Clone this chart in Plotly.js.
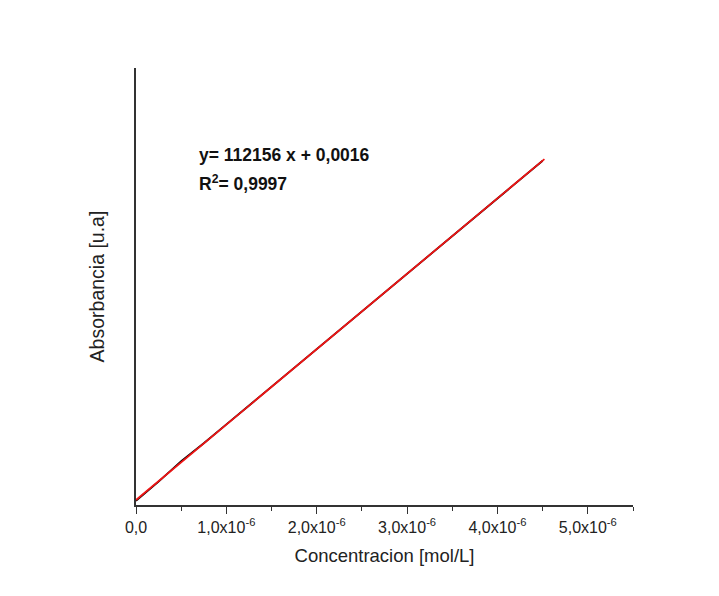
<!DOCTYPE html>
<html>
<head>
<meta charset="utf-8">
<script src="https://cdn.plot.ly/plotly-3.0.1.min.js"></script>
<style>html,body{margin:0;padding:0;background:#fff;}#chart{width:719px;height:596px;}</style>
</head>
<body>
<div id="chart"></div>
<script>
// measured data (black)
const concX = [0, 2.5e-7, 5e-7, 7.5e-7, 1e-6, 2e-6, 3e-6, 4e-6, 4.5e-6];
const absY  = [0.0004, 0.0290, 0.0595, 0.0860, 0.1140, 0.2260, 0.3380, 0.4500, 0.5060];
// linear fit (red), endpoints
const fitX = [0, 4.52e-6];
const fitY = [0.0016, 0.5085];
// x ticks
const tickVals = [0, 1e-6, 2e-6, 3e-6, 4e-6, 5e-6];
const tickText = ["0,0", "1,0x10<sup>-6</sup>", "2,0x10<sup>-6</sup>", "3,0x10<sup>-6</sup>", "4,0x10<sup>-6</sup>", "5,0x10<sup>-6</sup>"];
const fitLine1 = "<b>y= 112156 x + 0,0016</b>";
const fitLine2 = "<b>R<sup>2</sup>= 0,9997</b>";

const traces = [
  {x: concX, y: absY, mode: 'lines', line: {color: '#000000', width: 1.8}, hoverinfo: 'skip'},
  {x: fitX, y: fitY, mode: 'lines', line: {color: '#ee1414', width: 1.8}, hoverinfo: 'skip'}
];

const annFont = {size: 17.5, color: '#111', family: 'Liberation Sans, Arial, sans-serif'};

const layout = {
  width: 719, height: 596,
  margin: {l: 136, r: 86, t: 68, b: 91},
  paper_bgcolor: '#ffffff', plot_bgcolor: '#ffffff',
  showlegend: false,
  font: {family: 'Liberation Sans, Arial, sans-serif', color: '#222'},
  xaxis: {
    range: [0, 5.5e-6], showgrid: false, zeroline: false,
    showline: true, linecolor: '#333', linewidth: 2,
    tickmode: 'array', tickvals: tickVals, ticktext: tickText,
    ticks: 'outside', ticklen: 7, tickwidth: 1, tickcolor: '#333',
    minor: {tickvals: [5e-7, 1.5e-6, 2.5e-6, 3.5e-6, 4.5e-6, 5.5e-6], ticks: 'outside', ticklen: 4, tickwidth: 1, tickcolor: '#333'},
    tickfont: {size: 16, color: '#222'},
    title: {text: 'Concentracion [mol/L]', font: {size: 18.5, color: '#222'}, standoff: 14}
  },
  yaxis: {
    range: [-0.0058, 0.644], showgrid: false, zeroline: false,
    showline: true, linecolor: '#333', linewidth: 2,
    showticklabels: false, ticks: '',
    title: {text: 'Absorbancia [u.a]', font: {size: 19.5, color: '#222'}, standoff: 24}
  },
  annotations: [
    {xref: 'paper', yref: 'paper', x: 0.122, y: 0.801, xanchor: 'left', yanchor: 'middle',
     text: fitLine1, showarrow: false, align: 'left', font: annFont},
    {xref: 'paper', yref: 'paper', x: 0.122, y: 0.737, xanchor: 'left', yanchor: 'middle',
     text: fitLine2, showarrow: false, align: 'left', font: annFont}
  ]
};

Plotly.newPlot('chart', traces, layout, {displayModeBar: false, staticPlot: true});
</script>
</body>
</html>
